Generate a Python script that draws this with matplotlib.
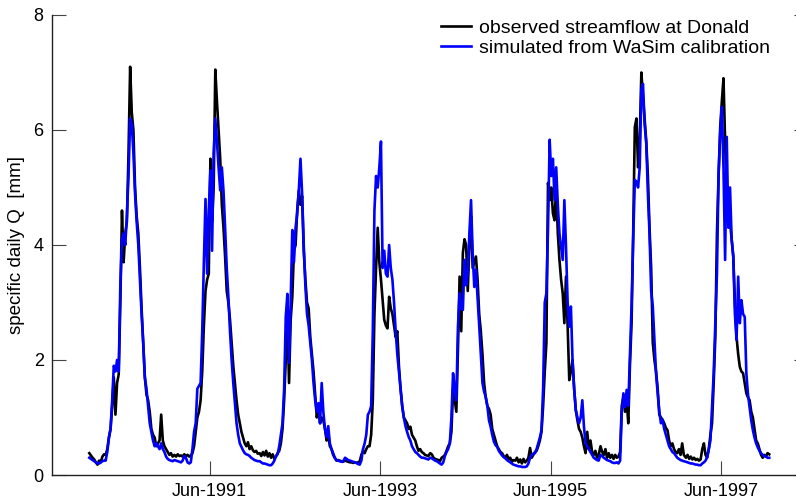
import numpy as np
import pandas as pd
import matplotlib
matplotlib.use('Agg')
import matplotlib.pyplot as plt

plt.rcParams['font.family'] = ['Liberation Sans', 'DejaVu Sans']

# weekly samples (52 per year, starting 1 Jan), mm/day
years = [1990, 1991, 1992, 1993, 1994, 1995, 1996, 1997]

obs_1990 = [0.38, 0.34, 0.30, 0.27, 0.22, 0.18, 0.25, 0.22, 0.32, 0.36, 0.35, 0.45, 0.65,
            0.8, 1.2, 1.7, 1.05, 1.6, 1.75, 3.0, 4.6, 3.7, 4.2, 4.4, 5.6, 7.1,
            6.3, 6.0, 5.0, 4.5, 4.2, 3.6, 2.9, 2.3, 1.7, 1.4, 1.3, 1.1, 0.8,
            0.7, 0.65, 0.5, 0.55, 0.6, 1.05, 0.6, 0.5, 0.45, 0.4, 0.35, 0.38, 0.32]
obs_1991 = [0.35, 0.32, 0.36, 0.33, 0.34, 0.32, 0.36, 0.33, 0.35, 0.32, 0.34, 0.38, 0.5,
            0.75, 1.0, 1.1, 1.3, 1.8, 2.6, 3.2, 3.4, 3.5, 5.5, 4.4, 5.0, 7.05,
            6.5, 6.0, 5.5, 4.7, 4.3, 3.8, 3.2, 3.0, 2.7, 2.3, 1.9, 1.6, 1.3,
            1.05, 0.9, 0.75, 0.65, 0.55, 0.5, 0.57, 0.45, 0.5, 0.43, 0.4, 0.42, 0.37]
obs_1992 = [0.38, 0.33, 0.4, 0.34, 0.42, 0.32, 0.38, 0.3, 0.36, 0.28, 0.32, 0.38, 0.42,
            0.55, 0.8, 1.3, 2.0, 2.8, 1.6, 2.7, 3.1, 3.9, 4.0, 4.6, 4.95, 4.7,
            4.85, 3.9, 3.4, 3.0, 2.9, 2.4, 2.1, 1.8, 1.4, 1.0, 1.15, 0.9, 1.0,
            0.95, 0.8, 0.6, 0.7, 0.5, 0.45, 0.35, 0.3, 0.25, 0.26, 0.25, 0.24, 0.23]
obs_1993 = [0.25, 0.24, 0.23, 0.22, 0.22, 0.21, 0.22, 0.21, 0.22, 0.24, 0.35, 0.42, 0.38,
            0.45, 0.5, 0.5, 0.7, 1.3, 2.8, 3.6, 4.3, 3.7, 3.4, 3.05, 2.7, 2.6,
            2.55, 3.1, 2.9, 2.8, 2.6, 2.4, 2.5, 1.9, 1.5, 1.2, 1.0, 0.95, 0.9,
            0.8, 0.84, 0.7, 0.65, 0.6, 0.5, 0.42, 0.45, 0.4, 0.38, 0.35, 0.34, 0.33]
obs_1994 = [0.38, 0.36, 0.3, 0.28, 0.27, 0.26, 0.24, 0.3, 0.32, 0.35, 0.42, 0.5, 0.55,
            0.75, 1.5, 1.3, 1.1, 2.2, 3.45, 2.5, 3.86, 4.1, 4.0, 3.2, 4.0, 4.5,
            3.6, 3.7, 3.8, 3.4, 2.8, 2.5, 2.1, 1.6, 1.35, 1.2, 1.15, 1.05, 0.8,
            0.7, 0.6, 0.5, 0.45, 0.4, 0.38, 0.33, 0.3, 0.35, 0.28, 0.3, 0.23, 0.26]
obs_1995 = [0.25, 0.3, 0.22, 0.27, 0.2, 0.28, 0.22, 0.25, 0.3, 0.47, 0.3, 0.35, 0.4,
            0.42, 0.5, 0.6, 0.75, 1.2, 1.8, 2.3, 5.08, 4.78, 5.0, 4.55, 4.43, 5.0,
            4.2, 3.74, 3.4, 3.16, 2.64, 3.45, 2.6, 1.65, 1.8, 2.0, 1.5, 1.13, 0.95,
            0.8, 0.75, 0.65, 0.5, 0.38, 0.75, 0.45, 0.6, 0.4, 0.35, 0.42, 0.3, 0.35]
obs_1996 = [0.5, 0.4, 0.35, 0.45, 0.3, 0.38, 0.3, 0.35, 0.28, 0.35, 0.3, 0.32, 0.4,
            1.2, 1.36, 1.1, 1.3, 0.9, 1.9, 2.64, 4.2, 6.05, 6.2, 5.35, 5.83, 7.0,
            6.57, 6.2, 5.8, 5.2, 4.3, 3.6, 2.3, 2.0, 1.8, 1.5, 1.05, 1.0, 0.96,
            0.9, 0.82, 0.78, 0.6, 0.5, 0.55, 0.45, 0.4, 0.38, 0.45, 0.35, 0.55, 0.35]
obs_1997 = [0.3, 0.35, 0.28, 0.32, 0.27, 0.3, 0.26, 0.28, 0.25, 0.27, 0.45, 0.55, 0.35,
            0.3, 0.45, 0.7, 0.9, 1.6, 2.4, 4.2, 5.2, 6.05, 6.5, 6.9, 5.8, 4.8,
            4.6, 4.4, 4.1, 3.8, 3.0, 2.4, 2.1, 1.88, 1.8, 1.77, 1.6, 1.42, 1.35,
            1.3, 1.1, 1.0, 0.8, 0.6, 0.55, 0.45, 0.35, 0.3, 0.35, 0.32, 0.38, 0.36]

sim_1990 = [0.3, 0.28, 0.26, 0.24, 0.22, 0.2, 0.2, 0.22, 0.24, 0.25, 0.25, 0.4, 0.65,
            0.8, 1.3, 1.9, 1.8, 2.0, 1.8, 3.3, 4.1, 4.2, 4.0, 4.5, 5.2, 6.2,
            6.1, 5.6, 4.9, 4.4, 4.0, 3.4, 2.8, 2.3, 1.7, 1.5, 1.2, 0.9, 0.75,
            0.6, 0.5, 0.55, 0.5, 0.45, 0.55, 0.45, 0.4, 0.32, 0.28, 0.26, 0.25, 0.24]
sim_1991 = [0.26, 0.25, 0.24, 0.23, 0.22, 0.25, 0.33, 0.3, 0.22, 0.2, 0.22, 0.45, 0.75,
            0.9, 1.5, 1.55, 1.6, 2.5, 3.7, 4.8, 3.5, 4.6, 5.3, 3.9, 5.6, 6.2,
            5.8, 5.35, 4.95, 5.35, 4.95, 4.3, 3.6, 3.1, 2.5, 2.0, 1.6, 1.25, 0.9,
            0.7, 0.55, 0.49, 0.43, 0.38, 0.36, 0.35, 0.33, 0.3, 0.28, 0.26, 0.25, 0.24]
sim_1992 = [0.24, 0.22, 0.2, 0.2, 0.19, 0.18, 0.17, 0.17, 0.2, 0.25, 0.33, 0.36, 0.5,
            0.7, 0.9, 1.5, 2.75, 3.15, 1.95, 3.0, 4.26, 3.7, 4.3, 4.55, 4.95, 5.5,
            4.9, 4.0, 3.3, 2.8, 2.6, 2.3, 2.0, 1.6, 1.3, 1.1, 1.25, 0.9, 1.6,
            1.1, 0.8, 0.66, 0.85, 0.55, 0.45, 0.38, 0.3, 0.26, 0.25, 0.24, 0.23, 0.23]
sim_1993 = [0.3, 0.28, 0.26, 0.25, 0.24, 0.23, 0.22, 0.21, 0.19, 0.18, 0.25, 0.45, 0.55,
            0.7, 1.05, 1.1, 1.2, 2.5, 4.6, 5.2, 5.0, 5.35, 5.8, 3.6, 3.9, 3.5,
            3.45, 4.0, 3.6, 3.4, 3.0, 2.5, 2.1, 1.8, 1.5, 1.2, 1.0, 0.85, 0.75,
            0.66, 0.6, 0.5, 0.45, 0.4, 0.38, 0.35, 0.32, 0.3, 0.3, 0.29, 0.28, 0.27]
sim_1994 = [0.3, 0.29, 0.27, 0.25, 0.24, 0.22, 0.2, 0.18, 0.22, 0.33, 0.4, 0.45, 0.55,
            1.0, 1.77, 1.5, 1.3, 2.58, 3.16, 2.9, 2.87, 3.74, 3.3, 3.5, 4.2, 4.78,
            3.86, 3.27, 3.57, 3.1, 2.6, 2.1, 1.6, 1.45, 1.36, 1.2, 0.95, 0.84, 0.7,
            0.58, 0.52, 0.49, 0.42, 0.38, 0.34, 0.31, 0.29, 0.26, 0.24, 0.22, 0.2, 0.18]
sim_1995 = [0.17, 0.16, 0.15, 0.15, 0.14, 0.14, 0.14, 0.15, 0.2, 0.3, 0.35, 0.37, 0.38,
            0.45, 0.55, 0.65, 0.78, 1.5, 3.0, 3.16, 4.3, 5.83, 5.2, 5.5, 4.78, 5.35,
            4.7, 4.2, 3.97, 3.74, 4.78, 3.97, 3.0, 2.58, 2.93, 2.0, 1.5, 1.13, 1.0,
            0.9, 1.0, 1.3, 0.84, 0.55, 0.5, 0.45, 0.4, 0.35, 0.3, 0.28, 0.26, 0.25]
sim_1996 = [0.35, 0.33, 0.3, 0.28, 0.26, 0.25, 0.24, 0.22, 0.21, 0.21, 0.22, 0.2, 0.25,
            1.08, 1.42, 1.18, 1.48, 1.2, 2.05, 2.93, 4.1, 5.13, 5.1, 5.0, 5.35, 6.7,
            6.8, 6.1, 5.77, 4.9, 4.2, 3.2, 2.93, 2.35, 1.77, 1.42, 1.1, 0.9, 0.96,
            0.8, 0.7, 0.6, 0.5, 0.45, 0.4, 0.38, 0.34, 0.3, 0.28, 0.26, 0.25, 0.24]
sim_1997 = [0.23, 0.22, 0.21, 0.2, 0.2, 0.19, 0.18, 0.18, 0.17, 0.17, 0.2, 0.22, 0.25,
            0.31, 0.45, 0.6, 1.2, 1.77, 2.64, 3.5, 5.25, 5.95, 6.4, 5.35, 3.74, 5.88,
            4.3, 5.0, 4.1, 3.8, 2.8, 2.35, 3.45, 2.64, 3.04, 2.8, 2.75, 1.77, 1.4,
            1.18, 0.95, 0.78, 0.65, 0.55, 0.48, 0.42, 0.38, 0.35, 0.33, 0.32, 0.3, 0.3]

obs = np.concatenate([obs_1990, obs_1991, obs_1992, obs_1993,
                      obs_1994, obs_1995, obs_1996, obs_1997])
sim = np.concatenate([sim_1990, sim_1991, sim_1992, sim_1993,
                      sim_1994, sim_1995, sim_1996, sim_1997])
dates = pd.DatetimeIndex(np.concatenate(
    [pd.date_range(f'{y}-01-01', periods=52, freq='7D').values for y in years]))

tick_dates = pd.to_datetime(['1991-06-01', '1993-06-01', '1995-06-01', '1997-06-01'])
tick_labels = ['Jun-1991', 'Jun-1993', 'Jun-1995', 'Jun-1997']

fig = plt.figure(figsize=(7.96, 5.0), dpi=100)
ax = fig.add_axes([0.0653, 0.05, 0.95, 0.92])

ax.plot(dates, obs, color='k', lw=1.9, label='observed streamflow at Donald')
ax.plot(dates, sim, color='#0000ff', lw=1.9, label='simulated from WaSim calibration')

pad = pd.Timedelta(days=160)
ax.set_xlim(pd.Timestamp('1990-01-01') - pad, pd.Timestamp('1997-12-31') + pad)
ax.set_ylim(0, 8)
ax.set_yticks([0, 2, 4, 6, 8])
ax.set_xticks(tick_dates)
ax.set_xticklabels(tick_labels)

for s in ['top', 'right']:
    ax.spines[s].set_visible(False)
for s in ['left', 'bottom']:
    ax.spines[s].set_color('#222222')
    ax.spines[s].set_linewidth(1.0)
ax.tick_params(direction='in', length=10, width=0.8, color='#444444',
               labelsize=13, right=True, top=False, pad=6)

ax.set_ylabel('specific daily Q  [mm]', fontsize=13.5, labelpad=6)

ax.legend(loc='upper left', bbox_to_anchor=(0.542, 0.981), bbox_transform=fig.transFigure,
          frameon=False, fontsize=14, handlelength=1.55, handletextpad=0.4,
          labelspacing=0.13, borderpad=0)

fig.savefig('out.png', dpi=100)
